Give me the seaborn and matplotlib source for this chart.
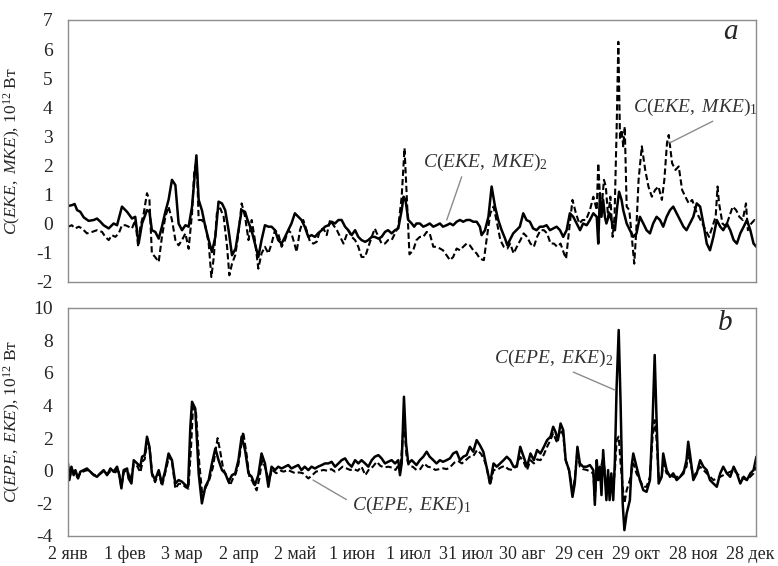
import matplotlib
matplotlib.use("Agg")
import matplotlib.pyplot as plt
import seaborn as sns
import pandas as pd

# ---------------- data (day offset from 2 Jan, value in 10^12 W) ----------------
top_solid = [(0,0.61),(2.1,0.64),(3.5,0.68),(4.8,0.47),(6.5,0.41),(8.3,0.22),(10.9,0.10),(13.6,0.13),(15.3,0.18),(17.1,0.07),(18.8,-0.05),(21.5,-0.16),(24.1,0.01),(25.9,-0.05),(28.5,0.59),(31.2,0.41),(33.8,0.18),(35.5,0.24),(37.3,-0.68),(39.1,0.01),(41.7,0.47),(43,0.41),(44.3,-0.22),(46.1,-0.28),(47.9,-0.51),(49.6,-0.10),(51.4,0.41),(53.1,0.82),(54.9,1.51),(56.7,1.33),(58.4,0.01),(60.2,-0.22),(62,-0.05),(63.7,-0.10),(65.5,0.59),(67.8,2.35),(69,0.82),(70.7,0.47),(72.5,-0.10),(74.3,-0.56),(76,-0.97),(77.8,-0.45),(79.5,0.76),(81.3,0.70),(83,0.47),(84.8,-0.22),(86.6,-1.08),(88.5,-0.85),(90,-0.22),(91.7,0.47),(93.5,0.41),(94.8,0.13),(96.9,-0.22),(98.7,-0.68),(100.5,-1.14),(102.2,-0.56),(104,-0.05),(105.8,-0.10),(107.5,-0.10),(109.3,-0.22),(111,-0.56),(112.8,-0.68),(114.6,-0.45),(116.3,-0.22),(118,0.01),(119.8,0.36),(121.6,0.24),(123.3,0.13),(125,-0.10),(126.9,-0.45),(128.6,-0.39),(130.4,-0.45),(132,-0.33),(134,-0.22),(135.7,-0.10),(137.5,-0.05),(139.2,0.07),(141,0.01),(142.8,0.13),(144.5,0.13),(146.3,-0.10),(148,-0.22),(149.8,-0.39),(151.6,-0.22),(153.3,-0.45),(155,-0.56),(156.9,-0.62),(158.6,-0.56),(160.4,-0.45),(162,-0.45),(163.9,-0.51),(165.6,-0.45),(167.4,-0.28),(169,-0.22),(170.9,-0.33),(172.7,-0.22),(174.4,-0.16),(176.2,0.47),(177.2,0.93),(178.2,0.82),(179.7,0.13),(181.5,0.01),(182.8,-0.10),(184,0.01),(185.8,0.01),(187.6,-0.10),(189.4,-0.05),(191,0.01),(192.9,-0.10),(194.6,-0.05),(196.4,0.01),(198,-0.10),(199.9,-0.05),(201.7,0.01),(203.4,-0.05),(205.2,0.07),(207,0.13),(208.7,0.07),(210.5,0.13),(212.2,0.13),(214,0.07),(215.8,0.07),(217.5,-0.10),(218.4,-0.39),(220.2,-0.22),(222,0.24),(223.7,1.28),(225.5,0.59),(227.2,0.13),(229,-0.22),(230.8,-0.51),(232,-0.74),(233.3,-0.56),(235.1,-0.33),(236.8,-0.22),(238.6,-0.10),(240.4,0.36),(242.1,0.13),(243.9,0.07),(245.6,-0.16),(247.4,-0.22),(249.2,-0.10),(250.9,-0.10),(252.7,-0.05),(254.5,-0.22),(256.2,-0.16),(258,-0.10),(259.8,-0.22),(261.5,-0.45),(263.3,-0.22),(265,0.36),(266.8,0.24),(268.6,0.01),(270.4,-0.22),(272,0.01),(273.9,-0.05),(275.6,0.13),(277.4,0.36),(279.2,0.24),(280,-0.68),(280.9,1.05),(281.7,0.24),(282.6,0.82),(283.5,0.24),(284.3,0.01),(286,0.36),(287.9,-0.10),(288.8,-0.22),(290,0.59),(291,1.10),(292.3,0.82),(293.2,0.47),(295,0.01),(296.7,-0.22),(298.5,-0.45),(300.2,-0.33),(302,0.24),(303.8,0.01),(305.5,-0.22),(307.3,-0.33),(309,0.01),(310.8,0.24),(312.6,0.13),(314.3,-0.10),(316.1,0.24),(317.9,0.47),(319.6,0.59),(321.4,0.36),(323.2,0.13),(325,-0.10),(326.6,-0.22),(328.4,0.01),(330.2,0.24),(332,0.70),(333.8,0.59),(335.5,0.01),(337.3,-0.68),(339,-0.91),(340.8,-0.45),(342.6,0.13),(344.4,-0.10),(346,-0.22),(347.9,0.01),(349.7,-0.22),(351.5,-0.56),(353.2,-0.68),(355,-0.33),(356.8,-0.10),(358.5,0.13),(360.3,-0.22),(362,-0.68),(363.5,-0.79)]

top_dashed = [(0,-0.10),(2,-0.05),(3.8,-0.16),(5.7,-0.10),(7.4,-0.16),(10,-0.33),(12.7,-0.28),(15.3,-0.22),(18,-0.28),(19.7,-0.45),(21.5,-0.56),(23.2,-0.39),(25,-0.45),(26.8,-0.33),(28.5,-0.05),(30.3,-0.05),(32,-0.10),(33.8,-0.16),(35.5,0.13),(37,-0.74),(38.2,-0.10),(40,0.36),(41.7,1.05),(43,0.82),(44.3,-1.02),(46,-1.14),(47.9,-1.31),(49.6,-0.45),(51.4,0.24),(53.1,0.59),(54.9,0.13),(56.7,-0.56),(58.4,-0.74),(60.2,-0.56),(62,-0.33),(63.7,-0.86),(65.5,0.36),(66.7,1.85),(68,2.15),(69,0.13),(70.7,0.13),(72.5,-0.05),(74.3,-0.68),(75.7,-1.83),(77,-1.14),(78.6,0.36),(80.4,0.53),(82.2,0.24),(84,-0.79),(85.2,-1.77),(86.6,-1.37),(88.3,-1.08),(90,-0.33),(91.7,0.70),(93.5,0.24),(95.3,-0.56),(97,0.13),(98.7,-0.56),(100.5,-1.54),(102.2,-1.02),(104,-0.79),(105.8,-1.02),(107.5,-0.68),(109.3,-0.22),(111,-0.33),(112.8,-0.79),(114.6,-0.56),(116.3,-0.22),(118,-0.33),(119.8,-0.74),(120.7,-0.97),(122.5,-0.22),(124.2,0.13),(126,-0.22),(127.8,-0.62),(129.6,-0.68),(131.3,-0.62),(133.1,-0.22),(134.9,-0.16),(136.6,-0.39),(138.4,0.13),(140.2,-0.05),(142,-0.22),(143.7,-0.45),(145.5,-0.68),(148,-0.22),(149.8,-0.45),(151.6,-0.56),(153.3,-0.79),(155,-1.14),(156.9,-1.14),(158.6,-0.79),(160.4,-0.45),(162,-0.16),(163.9,-0.45),(165.6,-0.68),(167.4,-0.68),(169,-0.56),(170.9,-0.56),(172.7,-0.33),(174.4,-0.10),(176.2,0.93),(177.7,2.60),(178.9,0.93),(180.3,-1.05),(182.3,-0.91),(184,-0.56),(185.8,-0.45),(187.6,-0.45),(189.4,-0.28),(191,-0.33),(192.9,-0.79),(194.6,-0.79),(196.4,-0.85),(198,-0.91),(199.9,-1.08),(201.7,-1.25),(203.4,-1.14),(205.2,-0.85),(207,-0.91),(208.7,-0.79),(210.5,-0.68),(212.2,-0.74),(214,-0.91),(215.8,-1.02),(217.5,-1.20),(219.6,-1.25),(221,-0.56),(223,0.36),(224.7,0.59),(226.6,0.01),(228.3,-0.56),(230.1,-0.79),(232,-0.85),(233.5,-0.68),(235.3,-1.02),(237,-0.79),(238.9,-0.56),(240.6,-0.33),(242.4,-0.45),(244.2,-0.68),(246,-0.79),(247.7,-0.45),(249.5,-0.22),(251.3,-0.22),(253,-0.33),(254.8,-0.68),(256.6,-0.68),(258.3,-0.79),(260.1,-0.68),(261.9,-1.02),(263,-1.20),(264.6,-0.22),(266.4,0.82),(268.2,0.36),(270,0.01),(271.7,0.13),(273.5,0.13),(275.6,0.47),(277.4,0.93),(279.2,0.47),(280,2.08),(280.9,0.93),(281.7,0.47),(283,1.51),(284,1.28),(285.2,0.24),(286.4,0.93),(287.6,-0.45),(288.6,0.24),(289.7,3.23),(290.6,6.25),(291.5,2.89),(292.3,3.23),(293.2,2.66),(294,3.34),(295,0.59),(296.4,0.47),(297.7,-0.45),(299,-1.37),(300,-0.33),(301.3,1.51),(303,2.66),(304.8,1.85),(306.5,1.28),(308.3,0.93),(310,1.16),(311.8,1.28),(313.6,0.82),(314.9,1.51),(316.3,2.77),(317.2,3.05),(319,2.08),(320.8,1.85),(322.5,1.97),(324.3,1.16),(326,0.93),(327.8,0.70),(329.6,0.82),(331.4,0.47),(333.1,0.24),(335,0.01),(336.7,-0.22),(338.5,-0.45),(340.3,-0.10),(342,0.24),(343,1.28),(343.8,0.70),(345.6,0.01),(347.4,-0.10),(349.2,0.24),(351,0.59),(352.8,0.47),(354.5,0.24),(356.3,0.13),(358,0.70),(359,-0.22),(360.8,0.01),(362.5,0.13),(363.5,0.07)]

bot_solid = [(0,0.45),(0.7,-0.57),(1.8,0.25),(3,-0.27),(3.9,0.04),(5.3,-0.47),(6.5,-0.06),(8.3,0.04),(10,0.14),(11.8,-0.06),(13.6,-0.27),(15.3,-0.37),(17,-0.16),(18.8,0.04),(20.6,-0.27),(22.4,0.14),(24.1,-0.06),(25.9,0.25),(27.1,-0.27),(28.2,-1.08),(29.4,0.04),(31.2,0.14),(32,-0.47),(33.5,-0.78),(34.7,0.65),(36.5,0.45),(38.2,0.25),(39.1,0.86),(40.5,0.96),(41.7,2.09),(43,1.47),(44.3,-0.16),(46,-0.57),(47.9,0.04),(49.6,-0.78),(51.4,0.04),(53.1,1.06),(54.9,0.65),(56.7,-0.78),(58.4,-0.57),(60.2,-0.67),(62,-0.88),(63.4,-0.98),(64.6,2.70),(65.5,4.23),(67.2,3.82),(69,-0.16),(70.7,-2.00),(72.5,-0.98),(74.3,-0.57),(76,0.45),(77.8,1.37),(79.5,0.65),(81.3,0.04),(83,-0.16),(84.8,-0.67),(86.6,-0.27),(88.3,-0.16),(90,0.65),(91.7,2.10),(93.5,1.27),(95.3,-0.16),(97,-0.37),(98.7,-0.88),(100.5,-0.27),(102.2,1.06),(104,0.45),(105.8,-0.98),(107.5,0.25),(109.3,0.04),(111,0.25),(112.8,0.14),(114.6,0.25),(116.3,0.35),(118,0.14),(119.8,0.25),(121.6,0.35),(123.3,0.04),(125,0.25),(126.9,0.04),(128.6,0.25),(130.4,0.14),(132,0.25),(134,0.35),(135.7,0.45),(137.5,0.45),(139.2,0.55),(141,0.25),(142.8,0.45),(144.5,0.65),(146.3,0.76),(148,0.45),(149.8,0.25),(151.6,0.65),(153.3,0.45),(155,0.65),(156.9,0.45),(158.6,0.25),(160.4,0.65),(162,0.86),(163.9,0.96),(165.6,0.76),(167.4,0.45),(169,0.55),(170.9,0.65),(172.7,0.45),(174.4,0.65),(175.3,-0.27),(176.2,0.45),(177.4,4.54),(178.5,1.68),(179.7,0.45),(181.5,0.65),(184,0.35),(185.8,0.65),(187.6,0.86),(189.4,1.17),(191,0.86),(192.9,0.65),(194.6,0.45),(196.4,0.65),(198,0.55),(199.9,0.65),(201.7,0.76),(203.4,1.06),(205.2,1.17),(207,0.65),(208.7,0.86),(210.5,0.96),(212.2,1.47),(214,1.17),(215.8,1.88),(217.5,1.57),(219.3,1.17),(221,0.25),(222.9,-0.78),(224.7,0.45),(226.4,0.25),(228.2,0.45),(230,0.65),(231.7,0.86),(233.5,0.65),(235.3,0.25),(237,0.25),(238.8,1.47),(240.6,0.86),(242.4,0.25),(244.2,1.06),(246,0.65),(247.7,1.27),(249.5,1.06),(251.3,1.47),(253,1.88),(254.8,2.09),(256.2,2.70),(257.4,2.39),(258.7,1.88),(260.1,2.90),(261.5,2.49),(262.8,0.65),(264.6,0.04),(266.4,-1.60),(267.6,-0.78),(269,1.47),(270.3,0.45),(272,0.25),(273.9,0.25),(275.6,0.35),(277.4,0.04),(278.2,-2.09),(279.2,0.65),(280,-0.57),(280.9,0.25),(281.7,-1.49),(282.6,1.27),(283.5,-0.37),(284.3,-1.80),(285.2,0.04),(286,-1.80),(286.9,-0.16),(287.9,-1.80),(288.8,0.65),(289.7,5.15),(290.8,8.63),(291.8,4.13),(292.9,-2.00),(293.8,-3.64),(295,-2.62),(296.7,-1.80),(297.6,0.25),(298.5,1.06),(300.2,0.25),(302,-0.57),(303.8,-1.19),(305.5,-1.29),(307.3,-0.57),(308.7,3.11),(309.8,7.10),(310.8,3.11),(311.9,-0.78),(313.5,-0.37),(314.3,1.06),(316.1,0.04),(317.9,-0.37),(319.6,-0.16),(321.4,-0.57),(323.2,-0.37),(325,-0.16),(326.6,0.65),(327.5,1.78),(328.4,1.06),(330.2,-0.57),(332,-0.16),(333.8,0.65),(335.5,0.25),(337.3,0.04),(339,-0.57),(340.8,-0.78),(342.6,-0.98),(344.4,-0.16),(346,0.25),(347.9,-0.16),(349.7,-0.37),(351.5,0.25),(353.2,-0.16),(355,-0.78),(356.8,-0.37),(358.5,-0.57),(360.3,-0.16),(362,0.04),(363.5,0.86)]

bot_dashed = [(0,0.30),(1,-0.40),(2,0.10),(3.5,-0.20),(5,-0.40),(7,-0.10),(9,0.00),(11,0.05),(13,-0.20),(15,-0.30),(17,-0.20),(19,0.00),(21,-0.20),(23,0.05),(25,-0.10),(26.5,0.10),(28.2,-1.00),(29.5,-0.05),(31.5,0.00),(33,-0.60),(34.7,0.40),(36.5,0.30),(38.2,-0.10),(39.5,0.60),(40.5,0.70),(42,1.95),(43.3,1.20),(44.5,-0.30),(46,-0.70),(48,-0.10),(49.6,-0.95),(51.4,-0.10),(53.4,0.90),(55,0.50),(56.7,-1.10),(58.4,-0.80),(60.2,-0.80),(62,-1.00),(63.6,-1.10),(65,1.50),(66,3.90),(67.5,3.75),(69.3,0.50),(71,-1.60),(72.8,-1.00),(74.5,-0.60),(76.5,0.20),(79,2.00),(80.5,1.10),(82,0.10),(84,-0.40),(85.5,-0.90),(87,-0.50),(88.5,-0.20),(90,0.40),(92.5,2.40),(94.3,1.00),(95.8,-0.40),(97.2,-0.60),(99.6,-1.20),(101,-0.50),(102.5,0.65),(104,0.25),(106,-0.57),(107.8,0.05),(110,-0.15),(112,0.00),(114,-0.05),(116,0.05),(118,-0.05),(120,-0.15),(122,-0.10),(124,-0.15),(126.9,-0.47),(129,-0.27),(131,-0.05),(133,0.00),(135,0.05),(137,0.00),(139,0.10),(141,-0.05),(143,0.05),(145,0.25),(147,0.15),(149,0.05),(151,0.10),(153,0.00),(155,0.25),(157,-0.27),(159,0.10),(161,0.25),(163,0.55),(165,0.30),(167,0.20),(169,0.25),(171,0.20),(173,0.05),(174.5,0.35),(175.5,0.00),(177.4,3.10),(178.8,0.85),(180,0.30),(182,0.25),(184,0.05),(186,0.10),(188,0.45),(190,0.25),(192,0.20),(194,0.05),(196,0.10),(198,0.15),(200,0.10),(202,0.25),(204,0.50),(206,0.60),(208,0.45),(210,0.65),(212,0.85),(214,0.90),(216,1.27),(218,1.05),(219.5,0.75),(221,0.25),(222.9,-0.88),(224.7,0.05),(226.5,0.05),(228.5,0.20),(230.5,0.30),(232.5,0.10),(234.5,0.05),(236.5,0.25),(238.8,0.85),(240.6,0.55),(242.4,0.05),(244.2,0.65),(246,0.45),(247.7,0.70),(249.5,0.65),(251.3,1.00),(253,1.47),(254.8,1.90),(256.2,2.30),(258,1.80),(260.1,2.50),(261.5,2.20),(262.8,0.65),(264.6,0.00),(266.4,-1.20),(267.6,-0.50),(269,1.27),(270.3,0.25),(272,0.10),(274,0.05),(277.4,-0.16),(278.2,-1.80),(279.2,0.25),(280.5,-0.37),(282.6,0.86),(284.3,-1.00),(286,-1.19),(287.9,-0.98),(288.8,0.04),(289.7,1.88),(290.8,2.10),(291.8,0.45),(292.9,-0.98),(293.8,-2.00),(295,-1.19),(296.7,-0.57),(298.5,0.45),(300.2,-0.16),(302,-0.57),(303.8,-0.98),(305.5,-0.98),(307.3,-0.37),(308.7,2.10),(309.8,3.10),(310.8,1.88),(311.9,-0.37),(313.5,-0.37),(314.3,0.45),(316.1,-0.16),(319.6,-0.37),(323.2,-0.37),(326.6,0.25),(327.5,1.06),(328.4,0.65),(330.2,-0.37),(333.8,0.25),(337.3,-0.16),(340.8,-0.57),(344.4,-0.37),(347.9,-0.16),(351.5,0.04),(355,-0.37),(358.5,-0.57),(362,-0.16),(363.5,0.25)]

tick_days = [0, 30, 60, 90, 120, 150, 180, 210, 240, 270, 300, 330, 360]
tick_labels = ["2 янв", "1 фев", "3 мар", "2 апр", "2 май", "1 июн", "1 июл",
               "31 июл", "30 авг", "29 сен", "29 окт", "28 ноя", "28 дек"]

# ---------------- style ----------------
sns.set_style("white")
plt.rcParams["font.family"] = "serif"
plt.rcParams["font.serif"] = ["Liberation Serif", "DejaVu Serif"]
plt.rcParams["axes.unicode_minus"] = False
plt.rcParams["mathtext.fontset"] = "custom"
plt.rcParams["mathtext.rm"] = "Liberation Serif"
plt.rcParams["mathtext.it"] = "Liberation Serif:italic"
plt.rcParams["mathtext.bf"] = "Liberation Serif:bold"

W, H = 778, 566
fig = plt.figure(figsize=(W / 100, H / 100), dpi=100)
ax1 = fig.add_axes([68 / W, 1 - 282 / H, 688 / W, 262 / H])
ax2 = fig.add_axes([68 / W, 1 - 536 / H, 688 / W, 228.3 / H])

def df_of(pairs):
    return pd.DataFrame(pairs, columns=["day", "val"])

GREY = "#8c8c8c"
TXT = "#262626"

def draw(ax, solid, dashed):
    sns.lineplot(data=df_of(dashed), x="day", y="val", ax=ax, color="black",
                 lw=1.5, estimator=None, sort=False)
    ax.lines[-1].set_dashes([3.0, 1.5])
    sns.lineplot(data=df_of(solid), x="day", y="val", ax=ax, color="black",
                 lw=1.8, estimator=None, sort=False)
    ax.set_xlim(0, 363.3)
    ax.set_xticks(tick_days)
    for s in ax.spines.values():
        s.set_color(GREY)
        s.set_linewidth(1.0)
    ax.tick_params(axis="both", direction="out", length=5, width=1, color=GREY,
                   labelcolor=TXT)
    ax.tick_params(axis="y", labelsize=14, pad=6)
    ax.set_xlabel("")

draw(ax1, top_solid, top_dashed)
draw(ax2, bot_solid, bot_dashed)

ax1.set_ylim(-2, 7)
ax1.set_yticks(range(-2, 8))
ax1.set_xticklabels([])
ax2.set_ylim(-4, 10)
ax2.set_yticks(range(-4, 11, 2))
ax2.set_xticklabels(tick_labels)
ax2.tick_params(axis="x", labelsize=13, pad=11.5)
for lbl in ax2.get_xticklabels():
    lbl.set_verticalalignment("baseline")

ax1.set_ylabel(r"$C(EKE,$ $MKE)$, 10$^{12}$ Вт", fontsize=12.5, color=TXT)
ax2.set_ylabel(r"$C(EPE,$ $EKE)$, 10$^{12}$ Вт", fontsize=12.5, color=TXT)
ax1.yaxis.set_label_coords(-0.066, 0.5)
ax2.yaxis.set_label_coords(-0.066, 0.5)

# panel letters
ax1.text(350, 6.6, "a", fontsize=21, style="italic", ha="center", va="center", color=TXT)
ax2.text(347, 9.05, "b", fontsize=21, style="italic", ha="center", va="center", color=TXT)

ann_kw = dict(fontsize=14, color="#333333", va="center", ha="left")
ax1.annotate(r"$C(EKE,$ $MKE)_2$", xy=(200, 0.13), xytext=(187.4, 2.09),
             arrowprops=dict(arrowstyle="-", color=GREY, lw=1, relpos=(0.32, 0.0),
                             shrinkA=0, shrinkB=0), **ann_kw)
ax1.annotate(r"$C(EKE,$ $MKE)_1$", xy=(317.8, 2.78), xytext=(298.5, 4.0),
             arrowprops=dict(arrowstyle="-", color=GREY, lw=1, relpos=(0.69, 0.0),
                             shrinkA=0, shrinkB=0), **ann_kw)
ax2.annotate(r"$C(EPE,$ $EKE)_2$", xy=(288.8, 4.95), xytext=(225, 6.9),
             arrowprops=dict(arrowstyle="-", color=GREY, lw=1, relpos=(0.6, 0.0),
                             shrinkA=0, shrinkB=0), **ann_kw)
ax2.annotate(r"$C(EPE,$ $EKE)_1$", xy=(129.4, -0.57), xytext=(150, -2.1),
             arrowprops=dict(arrowstyle="-", color=GREY, lw=1, relpos=(0.0, 0.6),
                             shrinkA=2, shrinkB=0), **ann_kw)

fig.savefig("out.png", dpi=100)
